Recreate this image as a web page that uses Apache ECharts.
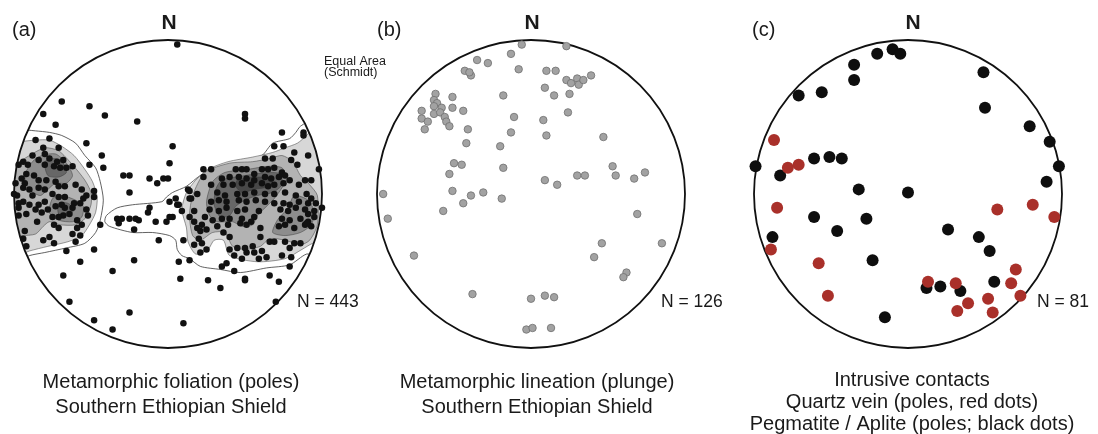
<!DOCTYPE html>
<html>
<head>
<meta charset="utf-8">
<script src="https://cdn.jsdelivr.net/npm/echarts@6/dist/echarts.min.js"></script>
<style>
  html, body { margin: 0; padding: 0; background: #ffffff; }
  #chart { width: 1098px; height: 434px; }
</style>
</head>
<body>
<div id="chart"></div>
<script>
// Equal-area (Schmidt) nets. Coordinates are in percent of the net radius:
// x = east, y = north, primitive circle at radius 100.

// (a) Poles to metamorphic foliation
const foliationPoles = [
  [6,97],[-69,60],[-51,57],[-81,52],[-41,51],[-20,47],[-73,45],[50,52],[50,49],[-53,33],[3,31],
  [-43,25],[-51,19],[-42,17],[1,20],[74,40],[88,40],[88,38],[69,31],[75,31],[82,27],[91,25],
  [80,22],[84,19],[63,23],[68,23],[93,9],[23,16],[98,16],
  [-29,12],[-25,12],[-12,10],[-7,7],[-3,10],[0,10],[-25,1],[-33,-16],[-30,-16],[-32,-19],
  [-25,-16],[-21,-16],[-19,-17],[-22,-23],[-12,-9],[-13,-12],[-8,-18],[-1,-18],[1,-15],[3,-15],
  [1,-5],[5,-3],[6,-7],[9,-11],[14,2],[15,-3],[19,0],[10,-30],[-6,-30],[7,-44],[14,-43],
  [-86,35],[-77,36],[-81,30],[-71,30],[-80,26],[-88,25],[-84,22],[-77,23],[-72,21],[-68,22],
  [-80,19],[-74,18],[-70,17],[-66,17],[-62,18],[-91,19],[-94,21],[-97,19],[-92,13],[-87,12],
  [-95,10],[-99,7],[-93,7],[-84,9],[-79,9],[-73,8],[-71,5],[-67,5],[-84,4],[-90,3],[-94,4],
  [-88,-1],[-80,3],[-75,0],[-60,6],[-56,3],[-53,-1],[-48,2],[-48,-2],[-55,-3],[-57,-6],[-61,-6],
  [-67,-2],[-71,-2],[-80,-5],[-84,-7],[-90,-7],[-94,-5],[-97,-6],[-98,-1],[-100,0],[-97,-9],
  [-97,-14],[-92,-13],[-86,-10],[-82,-12],[-78,-10],[-73,-8],[-69,-7],[-67,-9],[-62,-9],
  [-68,-14],[-64,-13],[-71,-15],[-75,-15],[-59,-17],[-53,-10],[-52,-14],[-56,-20],[-59,-22],
  [-57,-27],[-62,-26],[-74,-20],[-71,-22],[-85,-18],[-93,-24],[-94,-29],[-92,-34],[-81,-30],
  [-74,-32],[-66,-37],[-48,-36],[-60,-31],[-44,-20],[-77,-28],[-57,-44],[-68,-53],[-36,-50],
  [-22,-43],[-64,-70],[-25,-77],[-48,-82],[-36,-88],[10,-84],
  [44,16],[48,16],[51,16],[56,13],[61,16],[65,16],[69,17],[74,14],
  [35,10],[40,11],[46,11],[51,10],[56,9],[63,11],[67,10],[72,11],[76,12],[79,9],
  [28,6],[36,6],[42,6],[48,7],[54,6],[61,7],[65,5],[69,6],[75,7],[85,6],[89,9],
  [32,1],[37,-1],[45,0],[50,0],[56,1],[63,0],[69,0],[76,1],[83,-1],[90,0],[93,-3],
  [28,-5],[33,-4],[38,-5],[46,-4],[51,-5],[57,-4],[63,-5],[69,-6],[75,-6],[79,-7],[85,-5],[91,-6],[96,-6],
  [27,-10],[33,-11],[38,-9],[45,-11],[50,-10],[59,-11],[73,-10],[78,-11],[83,-9],[89,-10],[95,-11],[100,-9],
  [24,-15],[29,-17],[35,-16],[40,-16],[48,-16],[56,-15],[74,-16],[79,-17],[86,-16],[91,-18],[95,-15],
  [22,-20],[32,-21],[39,-20],[47,-19],[51,-20],[54,-18],[72,-21],[76,-20],[82,-22],[89,-20],[93,-21],
  [17,-11],[14,-15],[17,-18],[21,-24],[28,16],[23,11],[13,3],[14,-3],[7,-7],
  [19,-22],[25,-23],[20,-29],[22,-32],[17,-33],[25,-36],[21,-38],[36,-25],[40,-28],[60,-22],
  [60,-28],[66,-31],[69,-31],[76,-31],[82,-32],[86,-32],[79,-35],[40,-36],[45,-35],[50,-35],
  [55,-34],[43,-40],[48,-42],[51,-38],[56,-38],[61,-37],[64,-41],[59,-42],[35,-47],[38,-45],
  [43,-50],[50,-55],[66,-53],[79,-47],[74,-40],[80,-41],[90,-19],[91,-13],
  [8,-55],[26,-56],[34,-61],[50,-56],[72,-57],[70,-70]
];

// (a) Density contour outlines, lowest level first
const westLevel0 = [[-99,-44],[-108,-20],[-110,10],[-104,42],[-97,42],[-86,41],[-77,40],[-69,38],[-60,33],[-54,25],[-47,17],[-44,8],[-42,-4],[-44,-17],[-47,-25],[-54,-32],[-66,-35],[-80,-38],[-90,-40]];
const westLevel1 = [[-99,-40],[-108,-15],[-108,15],[-104,34],[-97,34],[-86,35],[-77,35],[-69,31],[-61,25],[-54,16],[-49,8],[-46,-2],[-47,-12],[-51,-20],[-56,-27],[-65,-31],[-78,-34],[-90,-37]];
const westLevel2 = [[-106,19],[-100,19],[-90,25],[-80,30],[-71,28],[-62,19],[-54,9],[-50,1],[-50,-7],[-54,-16],[-60,-20],[-70,-20],[-77,-18],[-81,-21],[-86,-26],[-95,-27],[-106,-27]];
const westLevel3a = [[-88,21],[-82,25],[-73,26],[-66,20],[-62,12],[-66,7],[-73,7],[-78,3],[-83,-1],[-90,3],[-93,12]];
const westLevel3b = [[-75,-3],[-69,-1],[-60,-4],[-55,-8],[-56,-15],[-62,-18],[-71,-17],[-77,-12]];
const westLevel4a = [[-80,21],[-73,23],[-68,20],[-66,14],[-71,11],[-78,12]];
const westLevel4b = [[-71,-6],[-65,-6],[-61,-10],[-65,-14],[-71,-13]];
const eastLevel0 = [[95,48],[86,44],[83,40],[79,36],[68,33],[61,25],[47,20],[34,17],[21,12],[12,5],[3,1],[-1,-2],[-4,-5],[-23,-7],[-33,-9],[-40,-14],[-41,-18],[-38,-21],[-23,-25],[-10,-25],[1,-27],[5,-30],[6,-36],[9,-40],[14,-42],[21,-47],[34,-49],[47,-51],[64,-48],[79,-46],[90,-39],[99,-40],[108,3]];
const eastLevel1 = [[95,43],[90,38],[84,33],[76,30],[68,27],[55,24],[39,21],[26,16],[18,9],[12,1],[9,-10],[12,-22],[13,-31],[18,-39],[26,-36],[30,-30],[36,-30],[40,-40],[58,-44],[76,-42],[87,-36],[94,-32],[102,-30],[108,3]];
const eastLevel2 = [[24,14],[40,20],[55,21],[66,23],[74,25],[81,21],[86,12],[92,6],[97,-1],[97,-20],[92,-30],[86,-33],[76,-30],[66,-29],[60,-34],[50,-36],[42,-34],[37,-25],[29,-25],[21,-30],[16,-27],[14,-14],[16,-1]];
const eastLevel3a = [[29,8],[37,14],[52,16],[65,18],[74,17],[77,10],[74,4],[69,-3],[63,-9],[58,-14],[55,-20],[48,-21],[42,-18],[32,-18],[27,-14],[25,-5]];
const eastLevel3b = [[82,-1],[91,-4],[95,-12],[93,-20],[86,-25],[76,-27],[68,-25],[71,-17],[78,-9]];
const eastLevel4 = [[35,9],[50,12],[65,14],[73,13],[74,6],[68,1],[58,-1],[50,-4],[44,-8],[40,-14],[34,-15],[30,-7],[31,3]];
const eastLevel5 = [[45,9],[58,11],[68,10],[66,5],[56,3],[48,1],[44,5]];

const contourShades = ['#ffffff', '#d7d7d7', '#b3b3b3', '#8d8d8d', '#676767', '#474747'];
const contourLevels = [0, 0, 1, 1, 2, 2, 3, 3, 3, 3, 4, 4, 4, 5];
const contourRings = [westLevel0, eastLevel0, westLevel1, eastLevel1, westLevel2, eastLevel2,
  westLevel3a, westLevel3b, eastLevel3a, eastLevel3b, westLevel4a, westLevel4b, eastLevel4, eastLevel5];

// (b) Plunge of metamorphic lineations
const lineationPlunges = [
  [-6,97],[23,96],[-13,91],[-35,87],[-28,85],[-43,80],[-39,77],[-40,79],[-8,81],[10,80],[16,80],
  [23,74],[26,72],[30,75],[31,71],[34,74],[39,77],[9,69],[15,64],[25,65],[-18,64],[-51,63],
  [-51,56],[-62,65],[-63,61],[-61,59],[-58,56],[-63,57],[-71,54],[-63,52],[-59,53],[-56,50],
  [-44,54],[-71,49],[-67,47],[-55,47],[-53,44],[-69,42],[-41,42],[-42,33],[-11,50],[8,48],
  [24,53],[-13,40],[10,38],[-20,31],[47,37],[-50,20],[-45,19],[-53,13],[-18,17],[9,9],[17,6],
  [30,12],[35,12],[53,18],[55,12],[67,10],[74,14],[-96,0],[-51,2],[-31,1],[-39,-1],[-19,-3],
  [-44,-6],[-57,-11],[-93,-16],[-76,-40],[69,-13],[85,-32],[46,-32],[41,-41],[62,-51],[60,-54],
  [-38,-65],[0,-68],[9,-66],[15,-67],[-3,-88],[1,-87],[13,-87]
];

// (c) Poles to intrusive contacts
const pegmatitePoles = [
  [-10,94],[-5,91],[-20,91],[-35,84],[-35,74],[-56,66],[-71,64],[49,79],[50,56],[79,44],[92,34],
  [98,18],[90,8],[-99,18],[-83,12],[-61,23],[-51,24],[-43,23],[-32,3],[0,1],[-61,-15],[-27,-16],
  [-46,-24],[-88,-28],[26,-23],[46,-28],[53,-37],[-23,-43],[12,-61],[21,-60],[34,-63],[56,-57],[-15,-80]
];
const quartzVeinPoles = [
  [-87,35],[-78,17],[-71,19],[-85,-9],[58,-10],[81,-7],[95,-15],[-89,-36],[-58,-45],[-52,-66],
  [13,-57],[31,-58],[39,-71],[32,-76],[52,-68],[55,-77],[70,-49],[67,-58],[73,-66]
];

const panelLetters = ['(a)', '(b)', '(c)'];
const sampleCounts = ['N = 443', 'N = 126', 'N = 81'];
const captions = [
  ['Metamorphic foliation (poles)', 'Southern Ethiopian Shield'],
  ['Metamorphic lineation (plunge)', 'Southern Ethiopian Shield'],
  ['Intrusive contacts', 'Quartz vein (poles, red dots)', 'Pegmatite / Aplite (poles; black dots)']
];

// ---- layout ----
const NET_R = 154;
const netCenters = [[168, 194], [531, 194], [908, 194]];
const FONT = '"Liberation Sans", Arial, Helvetica, sans-serif';
const INK = '#1a1a1a';

const chart = echarts.init(document.getElementById('chart'), null, { renderer: 'canvas' });

const grids = netCenters.map(c => ({
  left: c[0] - NET_R, top: c[1] - NET_R, width: NET_R * 2, height: NET_R * 2,
  containLabel: false
}));
const axisOf = i => ({ type: 'value', gridIndex: i, min: -100, max: 100, show: false });

const series = [];

// density shading (panel a)
series.push({
  type: 'custom', xAxisIndex: 0, yAxisIndex: 0, silent: true, z: 1,
  data: contourRings.map(() => [0, 0]),
  renderItem: (params, api) => {
    const ring = contourRings[params.dataIndex];
    const lvl = contourLevels[params.dataIndex];
    return {
      type: 'polygon',
      shape: { points: ring.map(p => api.coord(p)), smooth: 0.25 },
      style: { fill: contourShades[lvl], stroke: '#3a3a3a', lineWidth: lvl === 0 ? 0.8 : 0.5 }
    };
  }
});

// white band outside the primitive circle trims the shading
series.push({
  type: 'custom', xAxisIndex: 0, yAxisIndex: 0, silent: true, z: 2,
  data: [[0, 0]],
  renderItem: (params, api) => {
    const c = api.coord([0, 0]);
    const r = api.size([100, 0])[0];
    return { type: 'ring', shape: { cx: c[0], cy: c[1], r0: r, r: r + 20 }, style: { fill: '#ffffff' } };
  }
});

// primitive circles
for (let i = 0; i < 3; i++) {
  series.push({
    type: 'custom', xAxisIndex: i, yAxisIndex: i, silent: true, z: 3,
    data: [[0, 0]],
    renderItem: (params, api) => {
      const c = api.coord([0, 0]);
      const r = api.size([100, 0])[0];
      return { type: 'circle', shape: { cx: c[0], cy: c[1], r: r }, style: { fill: 'none', stroke: '#111111', lineWidth: 1.8 } };
    }
  });
}

const dots = (axis, data, size, style, z) => series.push({
  type: 'scatter', xAxisIndex: axis, yAxisIndex: axis, z, data,
  symbol: 'circle', symbolSize: size, silent: true,
  itemStyle: Object.assign({ opacity: 1 }, style),
  emphasis: { disabled: true }
});
dots(0, foliationPoles, 6.5, { color: '#111111' }, 5);
dots(1, lineationPlunges, 7.5, { color: '#a2a2a2', borderColor: '#707070', borderWidth: 0.8 }, 5);
dots(2, pegmatitePoles, 12, { color: '#0e0e0e' }, 5);
dots(2, quartzVeinPoles, 12, { color: '#a9302a' }, 6);

// text
const graphics = [];
const txt = (x, y, text, size, align, weight) => graphics.push({
  type: 'text', x, y, z: 100,
  style: {
    text, fill: INK, font: (weight || 'normal') + ' ' + size + 'px ' + FONT,
    textAlign: align, textVerticalAlign: 'middle'
  }
});
const letterX = [12, 377, 752];
const nX = [297, 661, 1037];
netCenters.forEach((c, i) => {
  txt(letterX[i], 30, panelLetters[i], 20, 'left');
  txt(c[0] + (i === 2 ? 5 : 1), 23, 'N', 21, 'center', 'bold');
  txt(nX[i], 302, sampleCounts[i], 17.5, 'left');
});
txt(324, 62, 'Equal Area', 12.5, 'left');
txt(324, 73, '(Schmidt)', 12.5, 'left');
const capX = [171, 537, 912];
const capY = [[382, 407], [382, 407], [380, 402, 424]];
captions.forEach((lines, i) => lines.forEach((s, j) => txt(capX[i], capY[i][j], s, 20, 'center')));

chart.setOption({
  animation: false,
  backgroundColor: '#ffffff',
  grid: grids,
  xAxis: [0, 1, 2].map(axisOf),
  yAxis: [0, 1, 2].map(axisOf),
  graphic: { elements: graphics },
  series
});
</script>
</body>
</html>
